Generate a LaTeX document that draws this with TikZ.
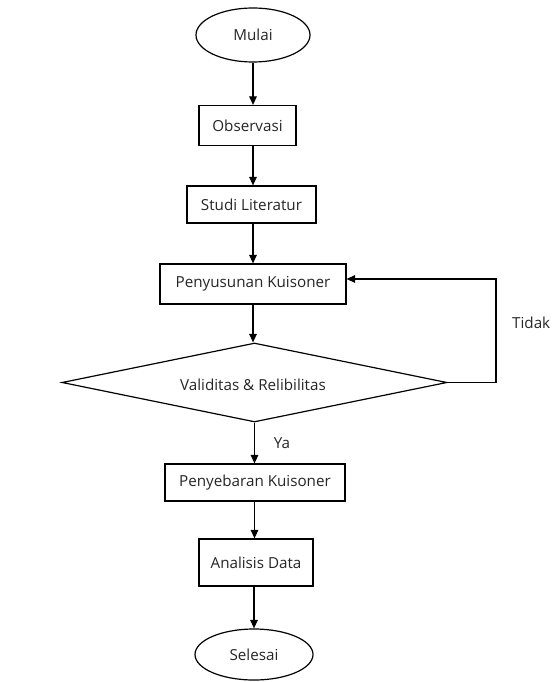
\documentclass[tikz,border=0pt]{standalone}
\usepackage{fontspec}
\setmainfont{Open Sans}
\usetikzlibrary{shapes.geometric,arrows.meta}
\begin{document}
\begin{tikzpicture}[x=1pt,y=-1pt,
  every node/.style={font=\fontsize{15.2}{18}\selectfont, text=black!85},
  box/.style={draw, line width=1.2pt, rectangle, inner sep=0pt},
  oval/.style={draw, line width=1.2pt, ellipse, inner sep=0pt},
  dia/.style={draw, line width=1.2pt, diamond, inner sep=0pt},
  arr/.style={line width=1.2pt, -{Triangle[length=8.5pt,width=7.5pt]}}]
\useasboundingbox[fill=white] (0,0) rectangle (553,682);
\node[oval, minimum width=114pt, minimum height=54pt] (mulai) at (253,35) {Mulai};
\node[box, minimum width=97pt, minimum height=40pt] (obs) at (247.5,125.5) {Observasi};
\node[box, minimum width=129pt, minimum height=37pt] (studi) at (251.5,204.5) {Studi Literatur};
\node[box, minimum width=186pt, minimum height=40pt] (peny) at (253,284) {Penyusunan Kuisoner};
\node[dia, minimum width=385pt, minimum height=79pt] (valid) at (254.5,382.5) {};
\node (validt) at (253,385) {Validitas \& Relibilitas};
\node[box, minimum width=180pt, minimum height=37pt] (sebar) at (255,482.5) {Penyebaran Kuisoner};
\node[box, minimum width=114pt, minimum height=47pt] (anal) at (256,562.5) {Analisis Data};
\node[oval, minimum width=118pt, minimum height=51pt] (selesai) at (254,654.5) {Selesai};
\node[anchor=west, inner sep=0pt] (tidak) at (512,323) {Tidak};
\node (ya) at (282,443) {Ya};
\coordinate (lp) at (496,279);
\draw[arr] (mulai.south) -- (mulai |- obs.north);
\draw[arr] (obs.south -| mulai) -- (studi.north -| mulai);
\draw[arr] (studi.south -| mulai) -- (peny.north -| mulai);
\draw[arr] (peny.south -| mulai) -- (valid.north -| mulai);
\draw[arr] (valid.south) -- (valid.south |- sebar.north);
\draw[arr] (sebar.south -| valid) -- (anal.north -| valid);
\draw[arr] (anal.south -| selesai) -- (selesai.north);
\draw[arr] (valid.east) -| (lp) -- (lp -| peny.east);
\end{tikzpicture}
\end{document}
